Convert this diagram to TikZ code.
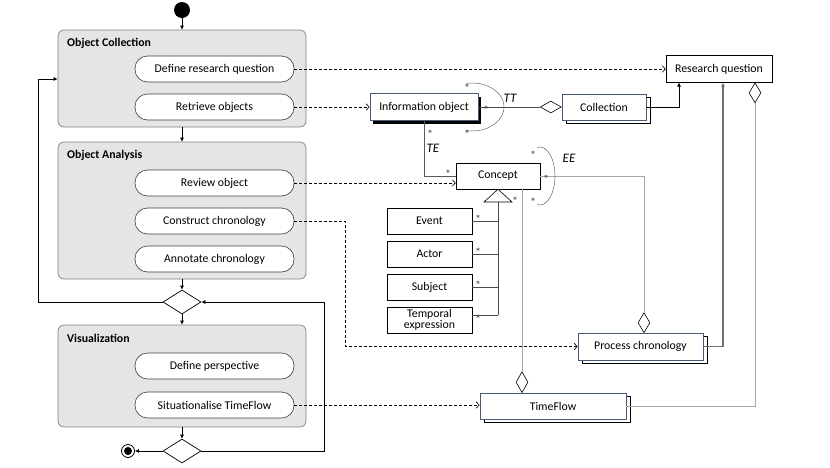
\documentclass[tikz,border=0pt]{standalone}
\usepackage{fontspec}
\setmainfont{Carlito}
\usetikzlibrary{arrows.meta,shadows,shapes.geometric}
\definecolor{uborder}{HTML}{4A5A78}
\definecolor{lgray}{HTML}{A6A6A6}
\definecolor{mgray}{HTML}{707070}
\begin{document}
\begin{tikzpicture}[x=1pt,y=-1pt,font=\fontsize{11.8}{13}\selectfont,
  container/.style={draw=black!50, fill=black!10, rounded corners=6pt, minimum width=248pt, line width=0.7pt, inner sep=0pt},
  pill/.style={draw=black!75, fill=white, rounded corners=12.5pt, minimum width=159pt, minimum height=26pt, inner sep=0pt, line width=0.6pt},
  ctitle/.style={font=\fontsize{11.8}{13}\selectfont\bfseries, anchor=west, inner sep=0pt},
  flow/.style={draw=black, line width=0.7pt, -{Latex[length=4pt,width=4pt]}},
  dep/.style={draw=black, line width=0.6pt, dash pattern=on 3pt off 2pt, -{Straight Barb[length=3pt,width=6.5pt]}},
  cls/.style={draw=black, fill=white, inner sep=1pt, line width=0.6pt},
  multi/.style={draw=uborder, fill=white, inner sep=1pt, line width=0.8pt,
    general shadow={draw=black, fill=white, line width=0.7pt, shadow xshift=4pt, shadow yshift=-3pt}},
  decision/.style={draw=black, fill=white, diamond, minimum width=38pt, minimum height=24pt, inner sep=0pt, line width=0.7pt},
  agg/.style={draw=black, fill=white, diamond, inner sep=0pt, line width=0.6pt},
  assoc/.style={draw=black!70, line width=0.5pt},
  lline/.style={draw=lgray, line width=0.8pt},
  star/.style={font=\fontsize{12}{12}\selectfont, text=black!75, inner sep=0pt, yshift=-3pt},
  role/.style={font=\fontsize{13}{14}\selectfont\itshape, inner sep=0pt}]

\useasboundingbox (0,0) rectangle (830,467);

% ---------- activity side ----------
\node[circle, fill=black, minimum size=16pt, inner sep=0pt] (start) at (182,10) {};

\node[container, minimum height=97pt] (oc) at (182,78.5) {};
\node[ctitle] (oct) at (67,43) {Object Collection};
\node[pill] (drq) at (214.5,69) {Define research question};
\node[pill] (ro) at (214.5,107) {Retrieve objects};

\node[container, minimum height=137pt] (oa) at (182,210.5) {};
\node[ctitle] (oat) at (67,155) {Object Analysis};
\node[pill] (rev) at (214.5,183) {Review object};
\node[pill] (cc) at (214.5,221) {Construct chronology};
\node[pill] (ac) at (214.5,259) {Annotate chronology};

\node[decision] (d1) at (182,302) {};

\node[container, minimum height=102pt] (vis) at (182,376) {};
\node[ctitle] (vist) at (67,338) {Visualization};
\node[pill] (dp) at (214.5,366) {Define perspective};
\node[pill] (st) at (214.5,405) {Situationalise TimeFlow};

\node[decision] (d2) at (182,451) {};
\node[circle, draw=black, line width=0.8pt, minimum size=13pt, inner sep=0pt] (endo) at (128,451) {};
\node[circle, fill=black, minimum size=8pt, inner sep=0pt] (endi) at (128,451) {};

\draw[flow] (start) -- (oc);
\draw[flow] (oc) -- (oa);
\draw[flow] (oa) -- (d1);
\draw[flow] (d1) -- (vis);
\draw[flow] (vis) -- (d2);
\draw[flow] (d2) -- (endo);
\coordinate (loopL) at (38,79);
\draw[flow] (d1.west) -| (loopL) -- (oc.west |- loopL);
\coordinate (loopR) at (324,302);
\draw[flow] (d2.east) -| (loopR) -- (d1.east);

% ---------- class side ----------
\node[cls, minimum width=106pt, minimum height=27pt] (rq) at (719,69) {Research question};
\node[cls, draw=uborder, line width=0.8pt, minimum width=108pt, minimum height=27pt,
  general shadow={fill=black, shadow xshift=3pt, shadow yshift=-3pt}] (io) at (424,107) {Information object};
\node[multi, minimum width=84pt, minimum height=26pt] (col) at (604,107) {Collection};
\node[cls, minimum width=84pt, minimum height=26pt] (concept) at (498,176) {Concept};
\node[multi, minimum width=125pt, minimum height=27pt] (pc) at (640.5,346.5) {Process chronology};
\node[multi, minimum width=146pt, minimum height=26pt] (tf) at (553,406) {TimeFlow};

\node[cls, minimum width=85pt, minimum height=26pt] (ev) at (429.5,221) {Event};
\node[cls, minimum width=85pt, minimum height=26pt] (act) at (429.5,254) {Actor};
\node[cls, minimum width=85pt, minimum height=26pt] (subj) at (429.5,287) {Subject};
\node[cls, minimum width=85pt, minimum height=26pt, align=center, font=\fontsize{11.8}{11.5}\selectfont, inner sep=0pt] (temp) at (429.5,320) {Temporal\\expression};

% aggregation diamonds
\node[agg, minimum width=21pt, minimum height=12pt, anchor=east] (cdia) at (col.west) {};
\node[agg, minimum width=12pt, minimum height=20pt, anchor=north] (rqd) at (755,82.5) {};
\node[agg, minimum width=12pt, minimum height=20pt, anchor=south] (pcd) at (644,333) {};
\node[agg, minimum width=12pt, minimum height=21pt, anchor=south] (tfd) at (522,393) {};

% dependencies
\draw[dep] (drq.east) -- (rq.west);
\draw[dep] (ro.east) -- (io.west);
\draw[dep] (rev.east) -- (concept.west |- rev.east);
\coordinate (ccx) at (345,0);
\draw[dep] (cc.east) -- (cc.east -| ccx) |- (pc.west);
\draw[dep] (st.east) -- (tf.west |- st.east);

% associations
\draw[assoc] (io.east) -- (cdia.west);
\coordinate (rqA) at (679,82.5);
\draw[flow, line width=0.6pt] (col.east) -| (rqA);
\coordinate (rqB) at (723,82.5);
\draw[draw=mgray, line width=1.2pt, -{Latex[length=4pt,width=4pt]}] (pc.east) -| (rqB);
\draw[lline] (rqd.south) |- (tf.east);
\draw[lline] (concept.east) -| (pcd.north);
\draw[lline] (concept.south -| tfd.north) -- (tfd.north);
\draw[draw=black!65, line width=0.6pt] (io.south) |- (concept.west);

% self loops
\draw[draw=black!60, line width=0.5pt] (472,107) ++(100:32 and 24) arc[start angle=100, end angle=-100, x radius=32, y radius=24];
\draw[draw=black!60, line width=0.5pt] (540,176) ++(100:15 and 29) arc[start angle=100, end angle=-100, x radius=15, y radius=29];

% generalization
\coordinate (gapex) at (concept.south);
\coordinate (gbase) at (498,202);
\coordinate (gbot) at (498,315);
\draw[assoc] (gbase) -- (gbot);
\draw[assoc] (ev.east) -- (ev.east -| gbase);
\draw[assoc] (act.east) -- (act.east -| gbase);
\draw[assoc] (subj.east) -- (subj.east -| gbase);
\draw[assoc] (temp.east |- gbot) -- (gbot);
\draw[draw=black, fill=white, line width=0.6pt] (484,202) -- (gapex) -- (512,202) -- cycle;

% multiplicities
\node[star] (s1) at (467,85) {*};
\node[star] (s2) at (486,107) {*};
\node[star] (s3) at (467,131) {*};
\node[star] (s4) at (430,131) {*};
\node[star] (s5) at (448,171) {*};
\node[star] (s6) at (533,152) {*};
\node[star] (s7) at (546,176) {*};
\node[star] (s8) at (533,199) {*};
\node[star] (s9) at (515,198) {*};
\node[star] (s10) at (478,216) {*};
\node[star] (s11) at (478,249) {*};
\node[star] (s12) at (478,282) {*};
\node[star] (s13) at (478,316) {*};

\node[role] (tt) at (510,98) {TT};
\node[role] (te) at (433,148) {TE};
\node[role] (ee) at (569,158) {EE};

\end{tikzpicture}
\end{document}
